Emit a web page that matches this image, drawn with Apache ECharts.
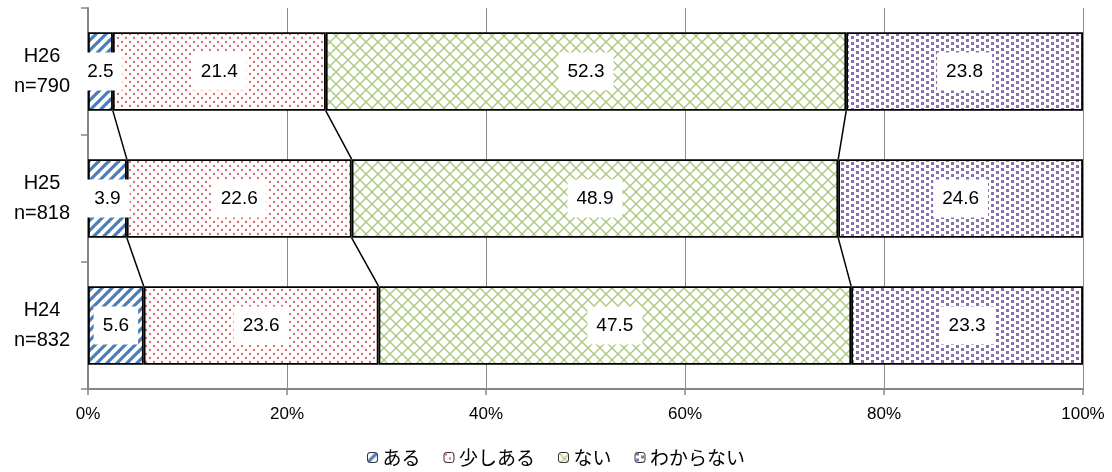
<!DOCTYPE html>
<html>
<head>
<meta charset="utf-8">
<script src="https://cdn.jsdelivr.net/npm/echarts@6/dist/echarts.min.js"></script>
<style>html,body{margin:0;padding:0;background:#fff;}#c{width:1112px;height:472px;}</style>
</head>
<body>
<div id="c"></div>
<script>
var categories = ['H26\nn=790', 'H25\nn=818', 'H24\nn=832'];
var seriesNames = ['ある', '少しある', 'ない', 'わからない'];
var aru = [2.5, 3.9, 5.6];
var sukoshiAru = [21.4, 22.6, 23.6];
var nai = [52.3, 48.9, 47.5];
var wakaranai = [23.8, 24.6, 23.3];
var xTicks = [0, 20, 40, 60, 80, 100];

function tile(w, h, draw) {
  var c = document.createElement('canvas');
  c.width = w; c.height = h;
  var ctx = c.getContext('2d');
  ctx.fillStyle = '#ffffff';
  ctx.fillRect(0, 0, w, h);
  draw(ctx);
  return c;
}
var stripe = tile(10, 10, function (ctx) {
  ctx.strokeStyle = '#4a7ebb';
  ctx.lineWidth = 3.2;
  var segs = [[-5, 5, 5, -5], [0, 10, 10, 0], [5, 15, 15, 5]];
  segs.forEach(function (s) { ctx.beginPath(); ctx.moveTo(s[0], s[1]); ctx.lineTo(s[2], s[3]); ctx.stroke(); });
});
var pinkDots = tile(8, 8, function (ctx) {
  ctx.fillStyle = '#e06666';
  [[2, 2], [6, 6]].forEach(function (p) { ctx.beginPath(); ctx.arc(p[0], p[1], 1.15, 0, Math.PI * 2); ctx.fill(); });
});
var cross = tile(12, 12, function (ctx) {
  ctx.strokeStyle = '#a9c77a';
  ctx.lineWidth = 1.3;
  var segs = [[0, 0, 12, 12], [-6, 6, 6, 18], [6, -6, 18, 6], [0, 12, 12, 0], [-6, 6, 6, -6], [6, 18, 18, 6]];
  segs.forEach(function (s) { ctx.beginPath(); ctx.moveTo(s[0], s[1]); ctx.lineTo(s[2], s[3]); ctx.stroke(); });
});
var purpleDots = tile(10, 6, function (ctx) {
  ctx.fillStyle = '#8a6fb0';
  ctx.fillRect(1, 0, 3, 3);
  ctx.fillRect(6, 3, 3, 3);
});
var patterns = [stripe, pinkDots, cross, purpleDots];
var values = [aru, sukoshiAru, nai, wakaranai];

var BAR_FRAC = 0.62;
var barSeries = seriesNames.map(function (name, i) {
  return {
    name: name,
    type: 'bar',
    stack: 'total',
    barWidth: (BAR_FRAC * 100) + '%',
    data: values[i],
    itemStyle: {
      color: { image: patterns[i], repeat: 'repeat' },
      borderColor: '#000',
      borderWidth: 1.8
    },
    label: {
      show: true,
      position: 'inside',
      formatter: function (p) { return p.value.toFixed(1); },
      backgroundColor: '#fff',
      color: '#000',
      fontFamily: 'Liberation Sans, Arial, sans-serif',
      fontSize: 19,
      lineHeight: 20,
      padding: [9, 9]
    },
    emphasis: { disabled: true }
  };
});

// connector lines between cumulative boundaries of adjacent bars
var connectorData = [];
for (var k = 0; k < 3; k++) {
  for (var c = 0; c < categories.length - 1; c++) {
    var a = 0, b = 0;
    for (var s = 0; s <= k; s++) { a += values[s][c]; b += values[s][c + 1]; }
    connectorData.push([a, c, b, c + 1]);
  }
}

var chart = echarts.init(document.getElementById('c'), null, { renderer: 'canvas' });
chart.setOption({
  animation: false,
  grid: { left: 88, right: 29, top: 8, bottom: 83, containLabel: false },
  legend: {
    data: seriesNames,
    bottom: 0,
    left: 'center',
    itemWidth: 10,
    itemHeight: 10,
    itemGap: 23,
    textStyle: { fontFamily: 'Noto Sans CJK JP, sans-serif', fontSize: 19, color: '#000' },
    itemStyle: { borderColor: '#333', borderWidth: 1 }
  },
  xAxis: {
    type: 'value',
    min: 0, max: 100, interval: 20,
    axisLine: { show: true, lineStyle: { color: '#868686', width: 2 } },
    axisTick: { show: true, length: 6, lineStyle: { color: '#868686', width: 1.5 } },
    splitLine: { show: true, lineStyle: { color: '#8c8c8c', width: 1 } },
    axisLabel: {
      formatter: function (v) { return v + '%'; },
      color: '#000',
      fontFamily: 'Liberation Sans, Arial, sans-serif',
      fontSize: 17,
      margin: 17
    }
  },
  yAxis: {
    type: 'category',
    inverse: true,
    data: categories,
    axisLine: { show: true, lineStyle: { color: '#868686', width: 2 } },
    axisTick: { show: true, length: 7, lineStyle: { color: '#868686', width: 1.5 } },
    axisLabel: {
      color: '#000',
      fontFamily: 'Liberation Sans, Arial, sans-serif',
      fontSize: 20,
      lineHeight: 30,
      align: 'center',
      margin: 46
    }
  },
  series: barSeries.concat([{
    type: 'custom',
    name: 'connectors',
    silent: true,
    z: 3,
    data: connectorData,
    encode: { x: [0, 2], y: [1, 3] },
    renderItem: function (params, api) {
      var p1 = api.coord([api.value(0), api.value(1)]);
      var p2 = api.coord([api.value(2), api.value(3)]);
      var half = api.size([0, 1])[1] * BAR_FRAC / 2;
      return {
        type: 'line',
        shape: { x1: p1[0], y1: p1[1] + half, x2: p2[0], y2: p2[1] - half },
        style: { stroke: '#000', lineWidth: 1.5 }
      };
    }
  }])
});
</script>
</body>
</html>
